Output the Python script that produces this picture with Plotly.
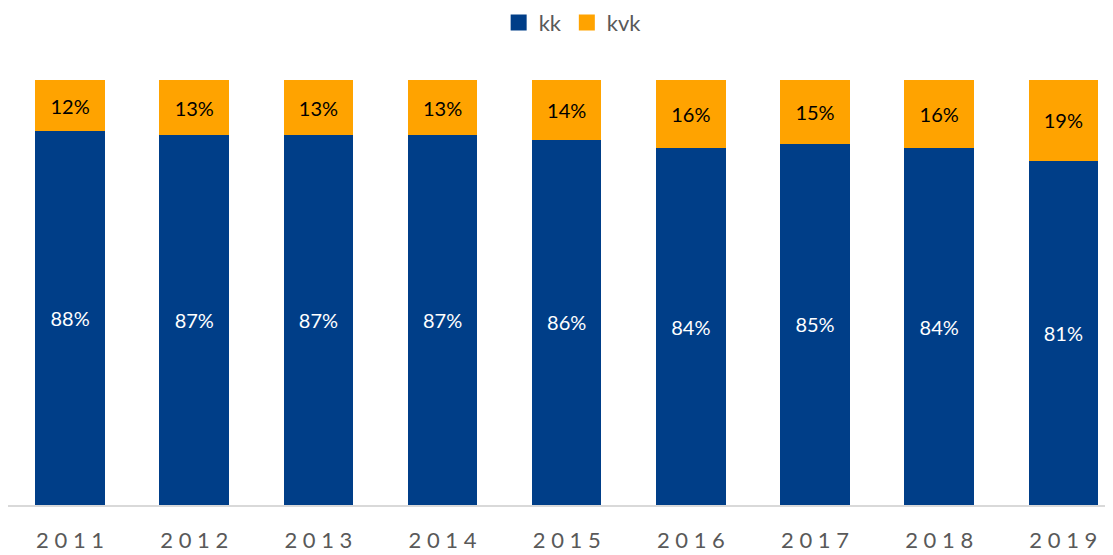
import plotly.graph_objects as go

# Share of each year, in percent
years = ["2011", "2012", "2013", "2014", "2015", "2016", "2017", "2018", "2019"]
kk_share = [88, 87, 87, 87, 86, 84, 85, 84, 81]
kvk_share = [12, 13, 13, 13, 14, 16, 15, 16, 19]
series_names = ["kk", "kvk"]

BLUE = "#003E88"
ORANGE = "#FFA300"
GRAY_TEXT = "#595959"
FONT = "Lato, Open Sans, sans-serif"

# spaced out year labels like the original axis
spaced_years = [" ".join(y) for y in years]

fig = go.Figure()
fig.add_trace(go.Bar(
    x=years,
    y=kk_share,
    name=series_names[0],
    showlegend=False,
    marker={"color": BLUE, "line": {"width": 0}},
    text=[f"{v}%" for v in kk_share],
    textposition="inside",
    insidetextanchor="middle",
    textfont={"color": "white", "size": 20, "family": FONT},
))
fig.add_trace(go.Bar(
    x=years,
    y=kvk_share,
    name=series_names[1],
    showlegend=False,
    marker={"color": ORANGE, "line": {"width": 0}},
    text=[f"{v}%" for v in kvk_share],
    textposition="inside",
    insidetextanchor="middle",
    textfont={"color": "black", "size": 20, "family": FONT},
))

# legend-only entries with bigger square swatches
for name, color in zip(series_names, [BLUE, ORANGE]):
    fig.add_trace(go.Scatter(
        x=[None],
        y=[None],
        mode="markers",
        name=name,
        marker={"symbol": "square", "size": 16, "color": color},
    ))

fig.update_layout(
    barmode="stack",
    bargap=0.44,
    width=1105,
    height=547,
    margin={"l": 0, "r": 0, "t": 72, "b": 50, "autoexpand": False},
    plot_bgcolor="white",
    paper_bgcolor="white",
    font={"family": FONT, "color": GRAY_TEXT},
    uniformtext={"minsize": 18, "mode": "show"},
    legend={
        "orientation": "h",
        "traceorder": "normal",
        "x": 0.511,
        "xanchor": "center",
        "y": 1.135,
        "yanchor": "middle",
        "font": {"size": 22, "color": GRAY_TEXT},
        "itemwidth": 30,
    },
    xaxis={
        "range": [-0.5, 8.4],
        "tickmode": "array",
        "tickvals": years,
        "ticktext": spaced_years,
        "tickfont": {"size": 22, "color": GRAY_TEXT},
        "showline": True,
        "linecolor": "#D9D9D9",
        "linewidth": 2,
        "ticks": "outside",
        "ticklen": 15,
        "tickcolor": "rgba(0,0,0,0)",
        "showgrid": False,
        "fixedrange": True,
    },
    yaxis={
        "range": [0, 100],
        "visible": False,
        "fixedrange": True,
    },
)

fig.write_html("out.html")
